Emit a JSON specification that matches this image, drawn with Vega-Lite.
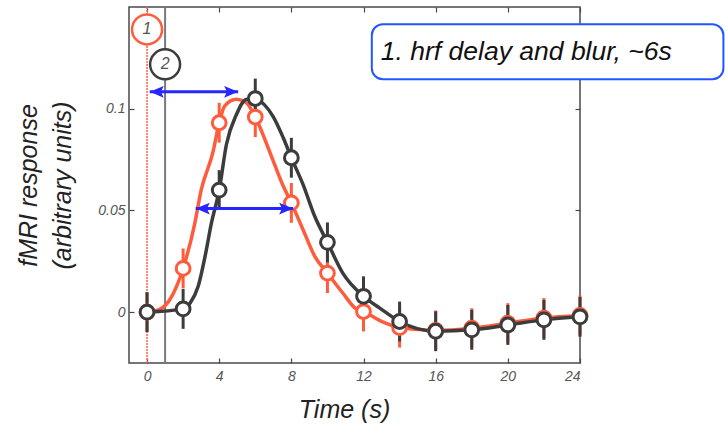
{
  "$schema": "https://vega.github.io/schema/vega-lite/v6.json",
  "width": 451,
  "height": 356,
  "autosize": {"type": "none"},
  "padding": {"left": 129, "top": 7, "right": 145, "bottom": 69},
  "config": {
    "view": {"stroke": "#4a4a4a", "strokeWidth": 1.5},
    "font": "Liberation Sans"
  },
  "resolve": {"axis": {"x": "independent", "y": "independent"}},
  "datasets": {
    "points": [
      {"t": 0, "v": 0.0, "lo": -0.0098, "hi": 0.0098, "series": "1"},
      {"t": 2, "v": 0.0215, "lo": 0.0117, "hi": 0.0313, "series": "1"},
      {"t": 4, "v": 0.0931, "lo": 0.0833, "hi": 0.1029, "series": "1"},
      {"t": 6, "v": 0.0959, "lo": 0.0861, "hi": 0.1057, "series": "1"},
      {"t": 8, "v": 0.0537, "lo": 0.0439, "hi": 0.0635, "series": "1"},
      {"t": 10, "v": 0.0192, "lo": 0.0094, "hi": 0.029, "series": "1"},
      {"t": 12, "v": 0.0003, "lo": -0.0095, "hi": 0.0101, "series": "1"},
      {"t": 14, "v": -0.0076, "lo": -0.0174, "hi": 0.0022, "series": "1"},
      {"t": 16, "v": -0.009, "lo": -0.0188, "hi": 0.0008, "series": "1"},
      {"t": 18, "v": -0.0079, "lo": -0.0177, "hi": 0.0019, "series": "1"},
      {"t": 20, "v": -0.0054, "lo": -0.0152, "hi": 0.0044, "series": "1"},
      {"t": 22, "v": -0.0029, "lo": -0.0127, "hi": 0.0069, "series": "1"},
      {"t": 24, "v": -0.0016, "lo": -0.0114, "hi": 0.0082, "series": "1"},
      {"t": 0, "v": 0.0, "lo": -0.0098, "hi": 0.0098, "series": "2"},
      {"t": 2, "v": 0.0016, "lo": -0.0082, "hi": 0.0114, "series": "2"},
      {"t": 4, "v": 0.06, "lo": 0.0502, "hi": 0.0698, "series": "2"},
      {"t": 6, "v": 0.105, "lo": 0.0952, "hi": 0.1148, "series": "2"},
      {"t": 8, "v": 0.0759, "lo": 0.0661, "hi": 0.0857, "series": "2"},
      {"t": 10, "v": 0.0343, "lo": 0.0245, "hi": 0.0441, "series": "2"},
      {"t": 12, "v": 0.0078, "lo": -0.002, "hi": 0.0176, "series": "2"},
      {"t": 14, "v": -0.0046, "lo": -0.0144, "hi": 0.0052, "series": "2"},
      {"t": 16, "v": -0.0094, "lo": -0.0192, "hi": 0.0004, "series": "2"},
      {"t": 18, "v": -0.0087, "lo": -0.0185, "hi": 0.0011, "series": "2"},
      {"t": 20, "v": -0.0063, "lo": -0.0161, "hi": 0.0035, "series": "2"},
      {"t": 22, "v": -0.0038, "lo": -0.0136, "hi": 0.006, "series": "2"},
      {"t": 24, "v": -0.0023, "lo": -0.0121, "hi": 0.0075, "series": "2"}
    ],
    "curves": [
      {"t": 0, "v": 0.0, "series": "1"},
      {"t": 0.6, "v": 0.001, "series": "1"},
      {"t": 1.25, "v": 0.006, "series": "1"},
      {"t": 2.0, "v": 0.0215, "series": "1"},
      {"t": 2.65, "v": 0.0438, "series": "1"},
      {"t": 3.0, "v": 0.06, "series": "1"},
      {"t": 3.65, "v": 0.0785, "series": "1"},
      {"t": 4.0, "v": 0.0931, "series": "1"},
      {"t": 4.3, "v": 0.1013, "series": "1"},
      {"t": 4.95, "v": 0.1046, "series": "1"},
      {"t": 5.5, "v": 0.103, "series": "1"},
      {"t": 6.0, "v": 0.0959, "series": "1"},
      {"t": 7.0, "v": 0.0742, "series": "1"},
      {"t": 7.55, "v": 0.062, "series": "1"},
      {"t": 8.0, "v": 0.0537, "series": "1"},
      {"t": 8.65, "v": 0.0405, "series": "1"},
      {"t": 9.3, "v": 0.0274, "series": "1"},
      {"t": 10.0, "v": 0.0192, "series": "1"},
      {"t": 10.85, "v": 0.0094, "series": "1"},
      {"t": 11.6, "v": 0.0015, "series": "1"},
      {"t": 12.0, "v": 0.0003, "series": "1"},
      {"t": 13.0, "v": -0.0045, "series": "1"},
      {"t": 14.0, "v": -0.0076, "series": "1"},
      {"t": 16.0, "v": -0.009, "series": "1"},
      {"t": 18.0, "v": -0.0079, "series": "1"},
      {"t": 20.0, "v": -0.0054, "series": "1"},
      {"t": 22.0, "v": -0.0029, "series": "1"},
      {"t": 24.0, "v": -0.0016, "series": "1"},
      {"t": 0, "v": 0.0, "series": "2"},
      {"t": 2.0, "v": 0.0016, "series": "2"},
      {"t": 2.4, "v": 0.0046, "series": "2"},
      {"t": 2.83, "v": 0.0126, "series": "2"},
      {"t": 3.29, "v": 0.0307, "series": "2"},
      {"t": 3.55, "v": 0.043, "series": "2"},
      {"t": 4.0, "v": 0.06, "series": "2"},
      {"t": 4.4, "v": 0.0824, "series": "2"},
      {"t": 4.95, "v": 0.097, "series": "2"},
      {"t": 5.5, "v": 0.1046, "series": "2"},
      {"t": 6.0, "v": 0.105, "series": "2"},
      {"t": 6.5, "v": 0.102, "series": "2"},
      {"t": 7.0, "v": 0.096, "series": "2"},
      {"t": 7.55, "v": 0.0857, "series": "2"},
      {"t": 8.0, "v": 0.0759, "series": "2"},
      {"t": 8.65, "v": 0.0627, "series": "2"},
      {"t": 9.3, "v": 0.047, "series": "2"},
      {"t": 10.0, "v": 0.0343, "series": "2"},
      {"t": 10.85, "v": 0.0192, "series": "2"},
      {"t": 12.0, "v": 0.0078, "series": "2"},
      {"t": 12.9, "v": 0.002, "series": "2"},
      {"t": 14.0, "v": -0.0046, "series": "2"},
      {"t": 16.0, "v": -0.0094, "series": "2"},
      {"t": 18.0, "v": -0.0087, "series": "2"},
      {"t": 20.0, "v": -0.0063, "series": "2"},
      {"t": 22.0, "v": -0.0038, "series": "2"},
      {"t": 24.0, "v": -0.0023, "series": "2"}
    ],
    "markers": [
      {"t": 0, "v": 0.139, "label": "1", "series": "1"},
      {"t": 1, "v": 0.1218, "label": "2", "series": "2"}
    ],
    "arrows": [
      {"t1": 0.15, "t2": 5.05, "v": 0.1083},
      {"t1": 2.7, "t2": 8.1, "v": 0.0509}
    ],
    "note": [
      {"t1": 12.46, "t2": 31.95, "v1": 0.1415, "v2": 0.1145, "tx": 12.96, "vy": 0.128, "text": "1. hrf delay and blur, ~6s"}
    ]
  },
  "layer": [
    {
      "data": {"name": "markers"},
      "transform": [{"filter": "datum.series === '1'"}],
      "mark": {"type": "rule", "stroke": "#ff6a55", "strokeWidth": 1.6, "strokeDash": [2, 1]},
      "encoding": {
        "x": {"field": "t", "type": "quantitative", "scale": {"domain": [-1, 24], "nice": false, "zero": false},
              "axis": {"orient": "top", "values": [0, 4, 8, 12, 16, 20, 24], "labels": false, "title": null, "domain": false, "grid": false, "tickSize": -5, "tickColor": "#4a4a4a", "tickWidth": 1.2}}
      }
    },
    {
      "data": {"name": "markers"},
      "transform": [{"filter": "datum.series === '2'"}],
      "mark": {"type": "rule", "stroke": "#7a7a7a", "strokeWidth": 2},
      "encoding": {
        "x": {"field": "t", "type": "quantitative", "scale": {"domain": [-1, 24], "nice": false, "zero": false}, "axis": null}
      }
    },
    {
      "data": {"name": "curves"},
      "mark": {"type": "line", "strokeWidth": 3.5, "interpolate": "monotone"},
      "encoding": {
        "x": {"field": "t", "type": "quantitative", "scale": {"domain": [-1, 24], "nice": false, "zero": false}, "axis": null},
        "y": {"field": "v", "type": "quantitative", "scale": {"domain": [-0.025, 0.15], "nice": false, "zero": false}, "axis": null},
        "color": {"field": "series", "type": "nominal", "scale": {"domain": ["1", "2"], "range": ["#ff5b3d", "#3c3c3c"]}, "legend": null},
        "order": {"field": "t", "type": "quantitative"}
      }
    },
    {
      "data": {"name": "points"},
      "mark": {"type": "rule", "strokeWidth": 3},
      "encoding": {
        "x": {"field": "t", "type": "quantitative", "scale": {"domain": [-1, 24], "nice": false, "zero": false}, "axis": null},
        "y": {"field": "lo", "type": "quantitative", "scale": {"domain": [-0.025, 0.15], "nice": false, "zero": false}, "axis": null},
        "y2": {"field": "hi"},
        "color": {"field": "series", "type": "nominal", "scale": {"domain": ["1", "2"], "range": ["#ff5b3d", "#3c3c3c"]}, "legend": null}
      }
    },
    {
      "data": {"name": "points"},
      "mark": {"type": "point", "filled": false, "fill": "white", "fillOpacity": 1, "strokeWidth": 3, "size": 190, "opacity": 1},
      "encoding": {
        "x": {"field": "t", "type": "quantitative", "scale": {"domain": [-1, 24], "nice": false, "zero": false},
              "axis": {"orient": "bottom", "values": [0, 4, 8, 12, 16, 20, 24], "title": "Time (s)", "domain": false, "grid": false, "tickSize": -5, "tickColor": "#4a4a4a", "tickWidth": 1.2, "labelPadding": 11, "labelFontSize": 14, "labelFontStyle": "italic", "labelColor": "#555555", "titleFontSize": 25, "titleFontStyle": "italic", "titleFontWeight": "normal", "titleColor": "#222222", "titlePadding": 14, "titleX": 215, "titleAlign": "center"}},
        "y": {"field": "v", "type": "quantitative", "scale": {"domain": [-0.025, 0.15], "nice": false, "zero": false},
              "axis": {"orient": "left", "values": [0, 0.05, 0.1], "format": "~g", "title": ["fMRI response", "(arbitrary units)"], "domain": false, "grid": false, "tickSize": -5, "tickColor": "#4a4a4a", "tickWidth": 1.2, "labelPadding": 9, "labelFontSize": 14, "labelFontStyle": "italic", "labelColor": "#555555", "titleFontSize": 25, "titleFontStyle": "italic", "titleFontWeight": "normal", "titleColor": "#222222", "titleLineHeight": 34, "titlePadding": 22}},
        "stroke": {"field": "series", "type": "nominal", "scale": {"domain": ["1", "2"], "range": ["#ff5b3d", "#3c3c3c"]}, "legend": null}
      }
    },
    {
      "data": {"name": "arrows"},
      "mark": {"type": "rule", "stroke": "#2626ff", "strokeWidth": 3},
      "encoding": {
        "x": {"field": "t1", "type": "quantitative", "scale": {"domain": [-1, 24], "nice": false, "zero": false}, "axis": null},
        "x2": {"field": "t2"},
        "y": {"field": "v", "type": "quantitative", "scale": {"domain": [-0.025, 0.15], "nice": false, "zero": false},
              "axis": {"orient": "right", "values": [0, 0.05, 0.1], "labels": false, "title": null, "domain": false, "grid": false, "tickSize": -5, "tickColor": "#4a4a4a", "tickWidth": 1.2}}
      }
    },
    {
      "data": {"name": "arrows"},
      "mark": {"type": "point", "shape": "M0,0 L2,-0.85 L1.6,0 L2,0.85 Z", "filled": true, "fill": "#2626ff", "opacity": 1, "size": 196, "strokeWidth": 0},
      "encoding": {
        "x": {"field": "t1", "type": "quantitative", "scale": {"domain": [-1, 24], "nice": false, "zero": false}, "axis": null},
        "y": {"field": "v", "type": "quantitative", "scale": {"domain": [-0.025, 0.15], "nice": false, "zero": false}, "axis": null}
      }
    },
    {
      "data": {"name": "arrows"},
      "mark": {"type": "point", "shape": "M0,0 L-2,-0.85 L-1.6,0 L-2,0.85 Z", "filled": true, "fill": "#2626ff", "opacity": 1, "size": 196, "strokeWidth": 0},
      "encoding": {
        "x": {"field": "t2", "type": "quantitative", "scale": {"domain": [-1, 24], "nice": false, "zero": false}, "axis": null},
        "y": {"field": "v", "type": "quantitative", "scale": {"domain": [-0.025, 0.15], "nice": false, "zero": false}, "axis": null}
      }
    },
    {
      "data": {"name": "markers"},
      "mark": {"type": "point", "filled": false, "fill": "white", "fillOpacity": 1, "strokeWidth": 2.5, "size": 900, "opacity": 1},
      "encoding": {
        "x": {"field": "t", "type": "quantitative", "scale": {"domain": [-1, 24], "nice": false, "zero": false}, "axis": null},
        "y": {"field": "v", "type": "quantitative", "scale": {"domain": [-0.025, 0.15], "nice": false, "zero": false}, "axis": null},
        "stroke": {"field": "series", "type": "nominal", "scale": {"domain": ["1", "2"], "range": ["#ff5b3d", "#3c3c3c"]}, "legend": null}
      }
    },
    {
      "data": {"name": "markers"},
      "mark": {"type": "text", "fontSize": 16, "fontStyle": "italic", "color": "#555555", "align": "center", "baseline": "middle"},
      "encoding": {
        "x": {"field": "t", "type": "quantitative", "scale": {"domain": [-1, 24], "nice": false, "zero": false}, "axis": null},
        "y": {"field": "v", "type": "quantitative", "scale": {"domain": [-0.025, 0.15], "nice": false, "zero": false}, "axis": null},
        "text": {"field": "label"}
      }
    },
    {
      "data": {"name": "note"},
      "mark": {"type": "rect", "fill": "white", "stroke": "#2356ff", "strokeWidth": 2, "cornerRadius": 11},
      "encoding": {
        "x": {"field": "t1", "type": "quantitative", "scale": {"domain": [-1, 24], "nice": false, "zero": false}, "axis": null},
        "x2": {"field": "t2"},
        "y": {"field": "v1", "type": "quantitative", "scale": {"domain": [-0.025, 0.15], "nice": false, "zero": false}, "axis": null},
        "y2": {"field": "v2"}
      }
    },
    {
      "data": {"name": "note"},
      "mark": {"type": "text", "fontSize": 26.5, "fontStyle": "italic", "color": "#111111", "align": "left", "baseline": "middle"},
      "encoding": {
        "x": {"field": "tx", "type": "quantitative", "scale": {"domain": [-1, 24], "nice": false, "zero": false}, "axis": null},
        "y": {"field": "vy", "type": "quantitative", "scale": {"domain": [-0.025, 0.15], "nice": false, "zero": false}, "axis": null},
        "text": {"field": "text"}
      }
    }
  ]
}
